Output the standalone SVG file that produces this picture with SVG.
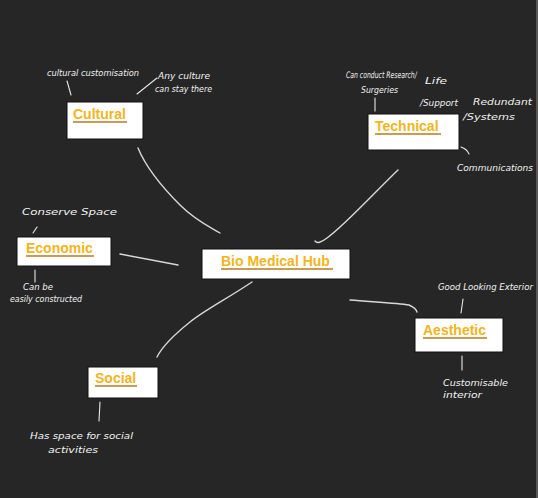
<svg xmlns="http://www.w3.org/2000/svg" width="538" height="498" viewBox="0 0 538 498">
<defs>
<style>
.bg{fill:#262626}
.box{fill:#ffffff;stroke:#111111;stroke-width:1}
.lbl{font-family:"Liberation Sans",Arial,sans-serif;font-weight:bold;font-size:14px;fill:#f2b521}
.ul{stroke:#b87a1c;stroke-width:1.6}
.conn{fill:none;stroke:#d8d8d8;stroke-width:1.4;stroke-linecap:round}
.lead{fill:none;stroke:#e8e8e8;stroke-width:1.1;stroke-linecap:round}
.hw{font-family:"DejaVu Sans",sans-serif;font-style:italic;font-size:9px;fill:#f2f2f2}
</style>
</defs>
<rect class="bg" x="0" y="0" width="538" height="498"/>
<line x1="537" y1="0" x2="537" y2="498" stroke="#8a8a8a" stroke-width="1"/>

<g id="connectors">
<path class="conn" d="M138,148 C145,165 160,185 180,205 C195,220 208,226 220,233"/>
<path class="conn" d="M398,170 C372,195 345,225 327,238 Q318,245 315,241"/>
<path class="conn" d="M120,254 L178,265"/>
<path class="conn" d="M252,282 C225,300 205,310 190,322 C175,334 163,345 157,357"/>
<path class="conn" d="M350,300 C375,302 398,303 409,305 Q416,308 417,312"/>
</g>

<g id="cultural">
<rect class="box" x="67" y="102" width="76" height="37"/>
<text class="lbl" x="73" y="119">Cultural</text>
<line class="ul" x1="73" y1="122" x2="127" y2="122"/>
<path class="lead" d="M67,81 L71,95"/>
<path class="lead" d="M157,78 L137,94"/>
<text class="hw" x="47" y="76" textLength="92" lengthAdjust="spacingAndGlyphs">cultural customisation</text>
<text class="hw" x="158" y="79" textLength="52" lengthAdjust="spacingAndGlyphs">Any culture</text>
<text class="hw" x="155" y="92" textLength="57" lengthAdjust="spacingAndGlyphs">can stay there</text>
</g>

<g id="technical">
<rect class="box" x="368" y="114" width="91" height="36"/>
<text class="lbl" x="375" y="131">Technical</text>
<line class="ul" x1="375" y1="134" x2="441" y2="134"/>
<path class="lead" d="M375,98 L375,111"/>
<path class="lead" d="M461,147 Q467,149 469,154"/>
<text class="hw" transform="translate(346,78) scale(0.68,1)">Can conduct Research/</text>
<text class="hw" x="425" y="84" font-size="11" textLength="22" lengthAdjust="spacingAndGlyphs">Life</text>
<text class="hw" x="361" y="93" textLength="37" lengthAdjust="spacingAndGlyphs">Surgeries</text>
<text class="hw" x="420" y="106" font-size="11" textLength="38" lengthAdjust="spacingAndGlyphs">/Support</text>
<text class="hw" x="473" y="105" font-size="11" textLength="59" lengthAdjust="spacingAndGlyphs">Redundant</text>
<text class="hw" x="463" y="120" font-size="11" textLength="52" lengthAdjust="spacingAndGlyphs">/Systems</text>
<text class="hw" x="457" y="171" font-size="11" textLength="76" lengthAdjust="spacingAndGlyphs">Communications</text>
</g>

<g id="economic">
<rect class="box" x="17" y="237" width="94" height="29"/>
<text class="lbl" x="26" y="253">Economic</text>
<line class="ul" x1="26" y1="256" x2="94" y2="256"/>
<path class="lead" d="M37,227 L33,233"/>
<path class="lead" d="M35,270 L35,282"/>
<text class="hw" x="22" y="215" font-size="12" textLength="95" lengthAdjust="spacingAndGlyphs">Conserve Space</text>
<text class="hw" x="23" y="290" textLength="30" lengthAdjust="spacingAndGlyphs">Can be</text>
<text class="hw" x="10" y="302" textLength="72" lengthAdjust="spacingAndGlyphs">easily constructed</text>
</g>

<g id="hub">
<rect class="box" x="202" y="249" width="148" height="30"/>
<text class="lbl" x="221" y="266">Bio Medical Hub</text>
<line class="ul" x1="221" y1="269" x2="333" y2="269"/>
</g>

<g id="aesthetic">
<rect class="box" x="415" y="318" width="88" height="34"/>
<text class="lbl" x="423" y="335">Aesthetic</text>
<line class="ul" x1="423" y1="338" x2="487" y2="338"/>
<path class="lead" d="M463,299 L461,313"/>
<path class="lead" d="M462,356 L462,370"/>
<text class="hw" x="438" y="290" textLength="95" lengthAdjust="spacingAndGlyphs">Good Looking Exterior</text>
<text class="hw" x="443" y="386" font-size="11" textLength="65" lengthAdjust="spacingAndGlyphs">Customisable</text>
<text class="hw" x="443" y="398" textLength="39" lengthAdjust="spacingAndGlyphs">interior</text>
</g>

<g id="social">
<rect class="box" x="88" y="367" width="70" height="31"/>
<text class="lbl" x="95" y="383">Social</text>
<line class="ul" x1="95" y1="386" x2="137" y2="386"/>
<path class="lead" d="M100,402 L99,421"/>
<text class="hw" x="30" y="439" textLength="103" lengthAdjust="spacingAndGlyphs">Has space for social</text>
<text class="hw" x="48" y="453" textLength="50" lengthAdjust="spacingAndGlyphs">activities</text>
</g>
</svg>
